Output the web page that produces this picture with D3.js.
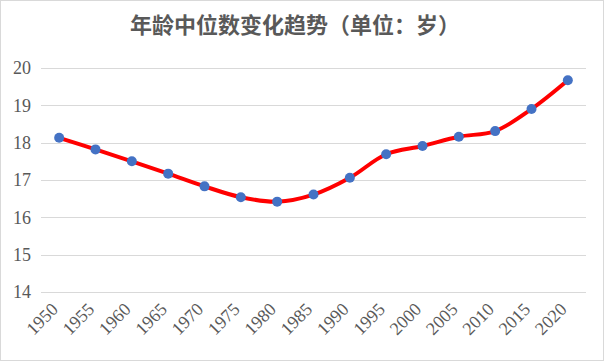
<!DOCTYPE html>
<html lang="zh">
    <head>
        <meta charset="utf-8">
        <title>年龄中位数变化趋势</title>
        <script src="https://d3js.org/d3.v7.min.js"></script>
        <style type="text/css">
            body { margin: 0; background: #fff; }
            .tick text { font-family: "Liberation Serif", "Times New Roman", "DejaVu Serif", serif; }
        </style>
    </head>
    <body>
        <script>
            // data
            var years = ["1950", "1955", "1960", "1965", "1970", "1975", "1980", "1985",
                         "1990", "1995", "2000", "2005", "2010", "2015", "2020"];
            var medianAge = [18.13, 17.82, 17.50, 17.17, 16.83, 16.54, 16.42, 16.61,
                             17.06, 17.69, 17.91, 18.16, 18.31, 18.90, 19.67];
            var yTicks = [14, 15, 16, 17, 18, 19, 20];
            var title = "年龄中位数变化趋势（单位：岁）";

            // configuration
            var outerWidth = 605;
            var outerHeight = 362;
            var margin = { left: 41, top: 68, right: 19, bottom: 70 };
            var innerWidth = outerWidth - margin.left - margin.right;
            var innerHeight = outerHeight - margin.top - margin.bottom;
            var serif = "'Liberation Serif', 'Times New Roman', 'DejaVu Serif', serif";

            var svg = d3.select("body")
                        .append("svg")
                        .attr("width", outerWidth)
                        .attr("height", outerHeight);

            // chart border
            svg.append("rect")
                .attr("x", 0.5).attr("y", 0.5)
                .attr("width", outerWidth - 2).attr("height", outerHeight - 2)
                .attr("fill", "#fff")
                .attr("stroke", "#d9d9d9");

            svg.append("text")
                .attr("x", 295)
                .attr("y", 33)
                .attr("text-anchor", "middle")
                .style("font-family", "'Noto Sans CJK SC', sans-serif")
                .style("font-weight", "bold")
                .style("font-size", "22px")
                .attr("fill", "#595959")
                .text(title);

            var g = svg.append("g")
                .attr("transform", "translate(" + margin.left + "," + margin.top + ")");

            var xScale = d3.scalePoint().domain(years).range([0, innerWidth]).padding(0.5);
            var yScale = d3.scaleLinear().domain([14, 20]).range([innerHeight, 0]);

            // gridlines
            g.selectAll(".grid").data(yTicks).enter().append("line")
                .attr("x1", 0).attr("x2", innerWidth)
                .attr("y1", function (d) { return Math.round(yScale(d)) + 0.5; })
                .attr("y2", function (d) { return Math.round(yScale(d)) + 0.5; })
                .attr("stroke", "#d9d9d9")
                .attr("stroke-width", 1);

            // y axis labels
            var yAxis = d3.axisLeft(yScale).tickValues(yTicks).tickFormat(d3.format("d"))
                .tickSize(0).tickPadding(10);
            var yg = g.append("g").call(yAxis)
                .attr("font-family", serif)
                .attr("font-size", 18);
            yg.select(".domain").remove();
            yg.selectAll("text")
                .style("font-family", serif)
                .style("font-size", "18px")
                .attr("fill", "#595959");

            // x axis labels
            var xAxis = d3.axisBottom(xScale).tickSize(0).tickPadding(0);
            var xg = g.append("g")
                .attr("transform", "translate(0," + innerHeight + ")")
                .call(xAxis)
                .attr("font-family", serif)
                .attr("font-size", 18);
            xg.select(".domain").remove();
            xg.selectAll("text")
                .style("font-family", serif)
                .style("font-size", "18px")
                .attr("fill", "#595959")
                .attr("text-anchor", "end")
                .attr("y", 0)
                .attr("dy", "0.35em")
                .attr("transform", "translate(-5,14) rotate(-45)");

            // line
            var line = d3.line()
                .x(function (d, i) { return xScale(years[i]); })
                .y(function (d) { return yScale(d); })
                .curve(d3.curveCatmullRom.alpha(0.5));

            g.append("path")
                .datum(medianAge)
                .attr("d", line)
                .attr("fill", "none")
                .attr("stroke", "#ff0000")
                .attr("stroke-width", 4)
                .attr("stroke-linecap", "round");

            g.selectAll(".dot").data(medianAge).enter().append("circle")
                .attr("cx", function (d, i) { return xScale(years[i]); })
                .attr("cy", function (d) { return yScale(d); })
                .attr("r", 5)
                .attr("fill", "#4472c4");
        </script>
    </body>
</html>
